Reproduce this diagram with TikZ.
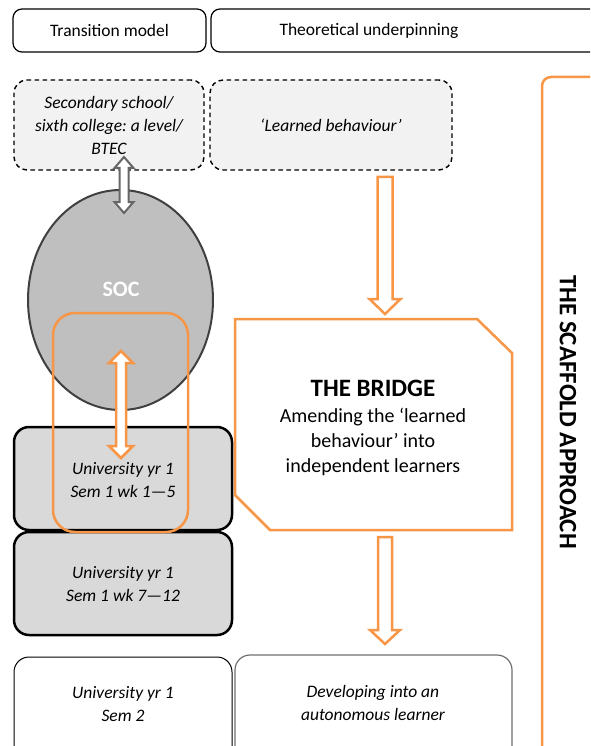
\documentclass[tikz,border=0pt]{standalone}
\usepackage{fontspec}
\setmainfont{Carlito}
\usetikzlibrary{calc,shapes.geometric}
\definecolor{org}{HTML}{F79646}
\definecolor{dashfill}{HTML}{F2F2F2}
\definecolor{boxfill}{HTML}{D9D9D9}
\definecolor{socfill}{HTML}{BFBFBF}
\definecolor{socline}{HTML}{404040}
\definecolor{garr}{HTML}{666666}
\definecolor{graybd}{HTML}{6F6F6F}
\newcommand{\fsA}{\fontsize{17.5}{23}\selectfont}
\newcommand{\fsB}{\fontsize{20}{25}\selectfont}
\newcommand{\fsT}{\fontsize{25}{30}\selectfont}
\frenchspacing
\begin{document}
\begin{tikzpicture}[x=1pt,y=-1pt,
  hdr/.style={draw=black, line width=1.2pt, rounded corners=9pt, inner sep=0pt, font=\fsA},
  dbox/.style={draw=black, dashed, dash pattern=on 4.5pt off 3.5pt, line width=1.4pt, fill=dashfill, rounded corners=13pt, inner sep=0pt, align=center, font=\fsA\itshape},
  ubox/.style={draw=black, line width=2.5pt, fill=boxfill, rounded corners=15pt, inner sep=0pt, align=center, font=\fsA\itshape},
  wbox/.style={draw=black, line width=1pt, fill=white, rounded corners=15pt, inner sep=0pt},
  itxt/.style={align=center, font=\fsA\itshape, inner sep=0pt},
  oarr/.style={draw=org, line width=2.5pt, fill=white, line join=miter},
  garrow/.style={draw=garr, line width=2pt, fill=white, line join=miter},
]
\useasboundingbox (0,0) rectangle (590,746);
\clip (0,0) rectangle (590,746);

% headers
\node[hdr, minimum width=193pt, minimum height=43pt] (h1) at (109.5,30.5) {Transition model};
\node[hdr, minimum width=399pt, minimum height=43pt] (h2) at (410.5,30.5) {};
\node[font=\fsA, inner sep=0pt] (h2t) at (369,30.5) {Theoretical underpinning};

% scaffold frame
\node[draw=org, line width=2.5pt, rounded corners=9pt, minimum width=100pt, minimum height=690pt, inner sep=0pt] (scaf) at (592,422) {};
\node[rotate=-90, font=\fsT\bfseries, inner sep=0pt] (scaft) at (568,412) {THE SCAFFOLD APPROACH};

% dashed boxes
\node[dbox, minimum width=190pt, minimum height=90pt] (sec) at (109,125) {Secondary school/\\ sixth college: a level/\\ BTEC};
\node[dbox, minimum width=242pt, minimum height=90pt] (lb) at (331,125) {‘Learned behaviour’};

% SOC ellipse
\node[ellipse, draw=socline, line width=2pt, fill=socfill, minimum width=185pt, minimum height=220pt, inner sep=0pt] (soc) at (120.5,300) {};
\node[font=\fontsize{22}{26}\selectfont\bfseries, text=white, inner sep=0pt] (soct) at (121,289) {SOC};

% university boxes
\node[ubox, minimum width=218pt, minimum height=103pt] (u1) at (123,478.5) {};
\node[itxt] (u1t) at (123,480) {University yr 1\\ Sem 1 wk 1—5};
\node[ubox, minimum width=218pt, minimum height=103pt] (u2) at (123,583.5) {};
\node[itxt] (u2t) at (123,584) {University yr 1\\ Sem 1 wk 7—12};

\node[wbox, minimum width=218pt, minimum height=120pt] (u3) at (123,717) {};
\node[itxt] (u3t) at (123,704) {University yr 1\\ Sem 2};
\node[wbox, draw=graybd, line width=1.2pt, minimum width=277pt, minimum height=120pt] (dev) at (373.5,715) {};
\node[itxt] (devt) at (373,703) {Developing into an\\ autonomous learner};

% orange frame around SOC/week 1-5
\node[draw=org, line width=2.5pt, rounded corners=22pt, minimum width=135pt, minimum height=219pt, inner sep=0pt] (ofr) at (120.5,422.5) {};

% the bridge
\draw[draw=org, line width=2.5pt, fill=white, line join=miter]
  (235,319) coordinate (br1) -- (477,319) -- (512,353) -- (512,530) -- (270,530) -- (235,495) -- cycle;
\node[font=\fsT\bfseries, inner sep=0pt] (brt) at (373,388) {THE BRIDGE};
\node[font=\fsB, align=center, inner sep=0pt] (brb) at (373,441.5) {Amending the ‘learned\\ behaviour’ into\\ independent learners};

% arrow anchor coordinates
\coordinate (g1) at (124,157);
\coordinate (g2) at (124,213);
\coordinate (o1) at (121,351);
\coordinate (o2) at (121,458);
\coordinate (a1s) at (385,177);
\coordinate (a1e) at (385,314);
\coordinate (a2s) at (385,537);
\coordinate (a2e) at (385,644);

% gray double arrow
\draw[garrow] let \p1=(g1), \p2=(g2) in
  (\x1,\y1) -- (\x1+9.5pt,\y1-11pt) -- (\x1+4.5pt,\y1-11pt) -- (\x1+4.5pt,\y2+11pt) -- (\x1+9.5pt,\y2+11pt)
  -- (\x1,\y2) -- (\x1-9.5pt,\y2+11pt) -- (\x1-4.5pt,\y2+11pt) -- (\x1-4.5pt,\y1-11pt) -- (\x1-9.5pt,\y1-11pt) -- cycle;

% orange double arrow
\draw[oarr] let \p1=(o1), \p2=(o2) in
  (\x1,\y1) -- (\x1+12pt,\y1-12pt) -- (\x1+5pt,\y1-12pt) -- (\x1+5pt,\y2+12pt) -- (\x1+12pt,\y2+12pt)
  -- (\x1,\y2) -- (\x1-12pt,\y2+12pt) -- (\x1-5pt,\y2+12pt) -- (\x1-5pt,\y1-12pt) -- (\x1-12pt,\y1-12pt) -- cycle;

% orange down arrows
\draw[oarr] let \p1=(a1s), \p2=(a1e) in
  (\x1-7.5pt,\y1) -- (\x1+7.5pt,\y1) -- (\x1+7.5pt,\y2+15pt) -- (\x1+15.5pt,\y2+15pt) -- (\x2,\y2)
  -- (\x1-15.5pt,\y2+15pt) -- (\x1-7.5pt,\y2+15pt) -- cycle;
\draw[oarr] let \p1=(a2s), \p2=(a2e) in
  (\x1-7pt,\y1) -- (\x1+7pt,\y1) -- (\x1+7pt,\y2+14pt) -- (\x1+15pt,\y2+14pt) -- (\x2,\y2)
  -- (\x1-15pt,\y2+14pt) -- (\x1-7pt,\y2+14pt) -- cycle;
\end{tikzpicture}
\end{document}
